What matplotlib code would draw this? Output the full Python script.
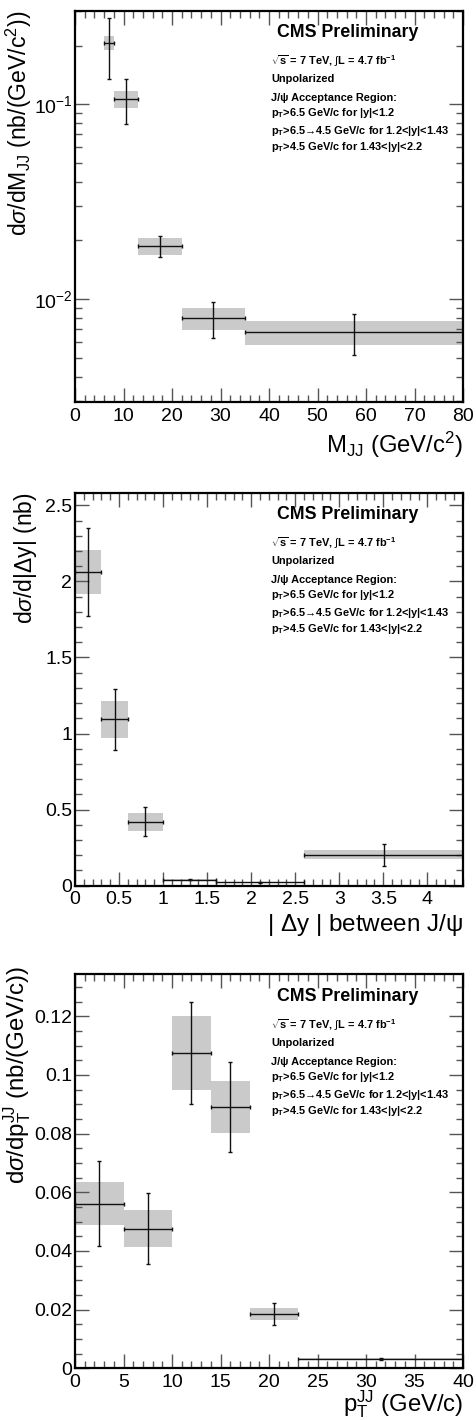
import matplotlib
matplotlib.use("Agg")
import matplotlib.pyplot as plt
from matplotlib.ticker import MultipleLocator, LogLocator, NullFormatter
import numpy as np

plt.rcParams['font.family'] = ['Liberation Sans', 'DejaVu Sans']
plt.rcParams['mathtext.fontset'] = 'custom'
plt.rcParams['mathtext.rm'] = 'Liberation Sans'
plt.rcParams['mathtext.it'] = 'Liberation Sans:italic'
plt.rcParams['mathtext.bf'] = 'Liberation Sans:bold'

# ---- Panel 1: M_JJ ----
m_lo = [6, 8, 13, 22, 35]
m_hi = [8, 13, 22, 35, 80]
m_x = [7.0, 10.45, 17.6, 28.5, 57.5]
m_val = [0.2066, 0.1065, 0.0187, 0.00796, 0.00675]
m_stat = [0.072, 0.0277, 0.0023, 0.00165, 0.0016]
m_syst = [0.0175, 0.011, 0.0019, 0.00103, 0.00095]

# ---- Panel 2: |Delta y| ----
dy_lo = [0.0, 0.3, 0.6, 1.0, 1.6, 2.6]
dy_hi = [0.3, 0.6, 1.0, 1.6, 2.6, 4.4]
dy_x = [0.15, 0.45, 0.80, 1.30, 2.10, 3.51]
dy_val = [2.06, 1.093, 0.42, 0.039, 0.022, 0.204]
dy_stat = [0.29, 0.20, 0.095, 0.004, 0.003, 0.072]
dy_syst = [0.145, 0.124, 0.058, 0.003, 0.002, 0.031]

# ---- Panel 3: pT^JJ ----
pt_lo = [0, 5, 10, 14, 18, 23]
pt_hi = [5, 10, 14, 18, 23, 40]
pt_x = [2.47, 7.49, 11.98, 15.97, 20.5, 31.5]
pt_val = [0.0561, 0.0476, 0.1075, 0.089, 0.0185, 0.0032]
pt_stat = [0.0145, 0.012, 0.0173, 0.0153, 0.0039, 0.0003]
pt_syst = [0.0073, 0.0062, 0.0127, 0.0089, 0.0022, 0.0002]

info_lines = [
    r'$\sqrt{\mathbf{s}}$ = 7 TeV, $\int$L = 4.7 fb$^{\mathbf{-1}}$',
    'Unpolarized',
    'J/ψ Acceptance Region:',
    r'p$_{\mathbf{T}}$>6.5 GeV/c for |y|<1.2',
    r'p$_{\mathbf{T}}$>6.5→4.5 GeV/c for 1.2<|y|<1.43',
    r'p$_{\mathbf{T}}$>4.5 GeV/c for 1.43<|y|<2.2',
]
info_y = [0.872, 0.826, 0.777, 0.739, 0.693, 0.652]

W, H = 476, 1420
fig = plt.figure(figsize=(W / 100, H / 100), dpi=100)

def rect(top, bottom):
    return [75 / W, (H - bottom) / H, 388 / W, (bottom - top) / H]

BOX = '#cacaca'

def draw(ax, lo, hi, x, val, stat, syst):
    lo = np.array(lo, float); hi = np.array(hi, float); x = np.array(x, float)
    val = np.array(val, float); stat = np.array(stat, float); syst = np.array(syst, float)
    ax.bar(lo, 2 * syst, width=hi - lo, bottom=val - syst, align='edge',
           color=BOX, edgecolor='none', zorder=1)
    ax.errorbar(x, val, xerr=[x - lo, hi - x], yerr=stat, fmt='none',
                ecolor='#111111', elinewidth=1.0, capsize=1.5, capthick=1.0, zorder=3)

def style(ax):
    for s in ax.spines.values():
        s.set_linewidth(1.6)
        s.set_color('black')
        s.set_zorder(5)
    ax.tick_params(which='both', direction='in', top=True, right=True,
                   color='#555555', labelsize=14, width=1.0)
    ax.tick_params(axis='x', which='both', pad=4)
    ax.tick_params(axis='y', which='both', pad=2)
    ax.tick_params(which='major', length=10)
    ax.tick_params(which='minor', length=5)

def info(ax):
    ax.text(0.704, 0.944, 'CMS Preliminary', transform=ax.transAxes,
            ha='center', va='center', fontsize=12.8, fontweight='bold')
    for s, yy in zip(info_lines, info_y):
        ax.text(0.505, yy, s, transform=ax.transAxes, ha='left', va='center',
                fontsize=7.9, fontweight='bold')

# Panel 1
ax1 = fig.add_axes(rect(11, 402))
draw(ax1, m_lo, m_hi, m_x, m_val, m_stat, m_syst)
ax1.set_yscale('log')
ax1.set_xlim(0, 80)
ax1.set_ylim(0.00296, 0.301)
ax1.xaxis.set_major_locator(MultipleLocator(10))
ax1.xaxis.set_minor_locator(MultipleLocator(2))
ax1.yaxis.set_major_locator(LogLocator(base=10))
ax1.yaxis.set_minor_locator(LogLocator(base=10, subs=np.arange(2, 10)))
ax1.yaxis.set_minor_formatter(NullFormatter())
style(ax1)
info(ax1)
ax1.set_ylabel(r'd$\sigma$/dM$_{\mathrm{JJ}}$ (nb/(GeV/c$^{2}$))', fontsize=16.6, loc='top')
ax1.set_xlabel(r'M$_{\mathrm{JJ}}$ (GeV/c$^{2}$)', fontsize=17.2, loc='right')

# Panel 2
ax2 = fig.add_axes(rect(492.7, 885.7))
draw(ax2, dy_lo, dy_hi, dy_x, dy_val, dy_stat, dy_syst)
ax2.set_xlim(0, 4.405)
ax2.set_ylim(0, 2.583)
ax2.xaxis.set_major_locator(MultipleLocator(0.5))
ax2.xaxis.set_minor_locator(MultipleLocator(0.1))
ax2.yaxis.set_major_locator(MultipleLocator(0.5))
ax2.yaxis.set_minor_locator(MultipleLocator(0.1))
ax2.xaxis.set_major_formatter(plt.FuncFormatter(lambda v, p: ('%g' % v)))
ax2.yaxis.set_major_formatter(plt.FuncFormatter(lambda v, p: ('%g' % v)))
style(ax2)
info(ax2)
ax2.set_ylabel(r'd$\sigma$/d|$\Delta$y| (nb)', fontsize=16.5, loc='top')
ax2.set_xlabel(r'| $\Delta$y | between J/ψ', fontsize=17.5, loc='right')

# Panel 3
ax3 = fig.add_axes(rect(974.3, 1368.3))
draw(ax3, pt_lo, pt_hi, pt_x, pt_val, pt_stat, pt_syst)
ax3.set_xlim(0, 40)
ax3.set_ylim(0, 0.1343)
ax3.xaxis.set_major_locator(MultipleLocator(5))
ax3.xaxis.set_minor_locator(MultipleLocator(1))
ax3.yaxis.set_major_locator(MultipleLocator(0.02))
ax3.yaxis.set_minor_locator(MultipleLocator(0.005))
ax3.xaxis.set_major_formatter(plt.FuncFormatter(lambda v, p: ('%g' % v)))
ax3.yaxis.set_major_formatter(plt.FuncFormatter(lambda v, p: ('%g' % round(v, 4))))
style(ax3)
info(ax3)
ax3.set_ylabel(r'd$\sigma$/dp$_{\mathrm{T}}^{\mathrm{JJ}}$ (nb/(GeV/c))', fontsize=17.3, loc='top')
ax3.set_xlabel(r'p$_{\mathrm{T}}^{\mathrm{JJ}}$ (GeV/c)', fontsize=17.2, loc='right')

ax1.yaxis.set_label_coords(-0.105, 1.0)
ax2.yaxis.set_label_coords(-0.092, 1.0)
ax3.yaxis.set_label_coords(-0.107, 1.02)
ax1.xaxis.set_label_coords(1.0, -0.07)
ax2.xaxis.set_label_coords(1.0, -0.068)
ax3.xaxis.set_label_coords(1.0, -0.052)

fig.savefig('out.png', dpi=100)
